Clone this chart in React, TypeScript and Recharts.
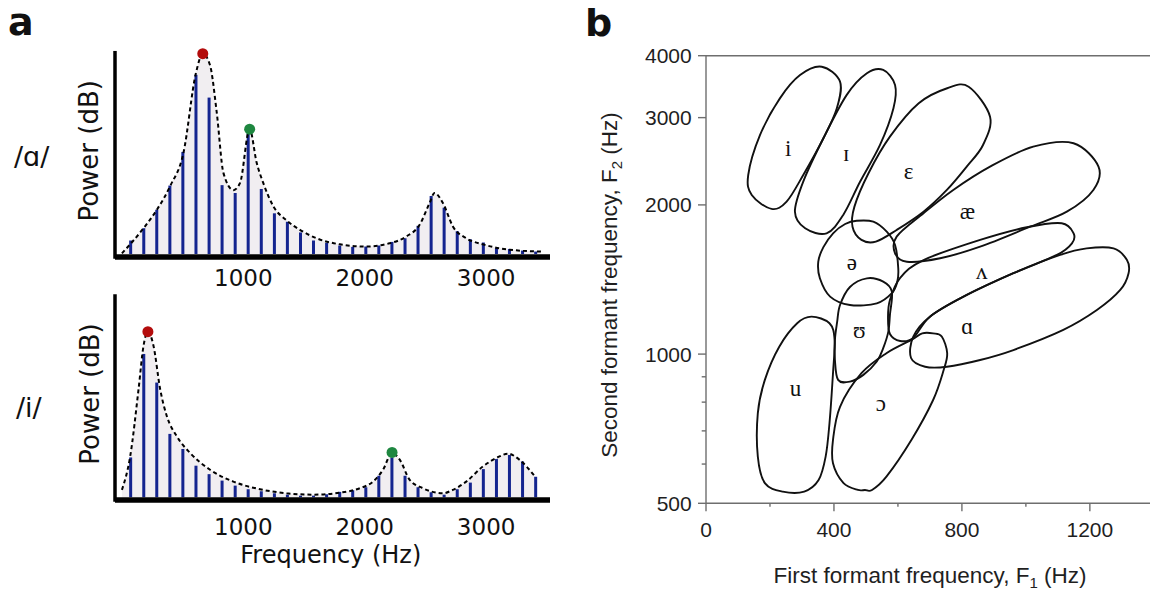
import {
  Area,
  Bar,
  ComposedChart,
  Label,
  Line,
  ReferenceLine,
  Scatter,
  XAxis,
  YAxis,
} from "recharts";

// ---------- panel a: harmonic spectra of /ɑ/ and /i/ ----------
const harmonicHz = [
  72, 180, 287, 395, 502, 610, 718, 825, 933, 1040, 1148, 1256, 1363, 1471, 1578, 1686,
  1794, 1901, 2009, 2116, 2224, 2332, 2439, 2547, 2654, 2762, 2870, 2977, 3085, 3192, 3300, 3408,
];
const powerA = [
  6.7, 12.8, 22, 34, 50.7, 89, 77.7, 34.2, 30.3, 60, 32.3, 20.2, 16, 10.7, 6.7, 5.5,
  4.2, 3.5, 3.7, 4.2, 6, 7.8, 14, 28.8, 23, 11.3, 7.3, 5.7, 3, 2.5, 1.7, 1.2,
];
const powerI = [
  19.8, 71.2, 57, 31.5, 24, 15.7, 11.5, 8.3, 5.8, 4, 3, 2, 1.3, 0.8, 0.8, 1.5,
  2.7, 3.5, 5, 10.7, 19.8, 10.7, 5, 2.5, 1.3, 4, 7.3, 14, 19, 21, 17.8, 10.2,
];
// dashed envelope, [Hz, level]
const envelopeA = [
  [0, 0.3], [178, 12.8], [288, 22], [397, 33.7], [507, 50.3], [610, 90], [666, 99.5],
  [726, 93.7], [781, 70.3], [836, 40.3], [918, 31.7], [973, 35.3], [1052, 62], [1110, 45.3],
  [1164, 35.3], [1247, 23.7], [1356, 16.7], [1466, 12], [1603, 7.8], [1795, 4.8], [2014, 3.7],
  [2205, 5.3], [2342, 8.7], [2452, 14.5], [2534, 25.3], [2575, 30.3], [2644, 25.3],
  [2726, 13.7], [2836, 7.8], [2973, 4.8], [3110, 2.8], [3247, 1.8], [3452, 1.2],
];
const envelopeI = [
  [0, 3.7], [68, 20.3], [137, 53.7], [178, 75.3], [214, 82.3], [260, 75.3], [315, 53.7],
  [370, 40.3], [452, 30.3], [562, 22], [726, 13.7], [918, 7.8], [1137, 4], [1356, 2],
  [1575, 1.3], [1795, 2.3], [1959, 4.5], [2068, 7.8], [2151, 13.7], [2225, 22], [2288, 18.7],
  [2370, 8.7], [2479, 4.5], [2644, 2], [2726, 3.7], [2836, 7.8], [2973, 15.3], [3110, 20.3],
  [3178, 21.7], [3274, 18.7], [3397, 10.7],
];
// formant peaks F1 (red), F2 (green)
const peaksA = [[666, 99.5], [1052, 62]];
const peaksI = [[214, 82.3], [2225, 22.3]];
const spectrumTicks = [1000, 2000, 3000];

// ---------- panel b: vowel regions in F1/F2 space, outlines as [F1, F2] ----------
const f1Ticks = [0, 200, 400, 600, 800, 1000, 1200];
const f1Major = [0, 400, 800, 1200];
const f2Ticks = [500, 600, 700, 800, 900, 1000, 2000, 3000, 4000];
const f2Major = [500, 1000, 2000, 3000, 4000];

const regionI = [[362, 3800], [419, 3545], [409, 3134], [367, 2726], [304, 2298], [252, 2031], [205, 1963], [143, 2094], [132, 2298], [169, 2768], [231, 3281], [294, 3656]];
const regionSmallI = [[554, 3743], [591, 3491], [586, 3134], [544, 2642], [482, 2229], [429, 1909], [377, 1753], [310, 1794], [278, 1938], [304, 2229], [367, 2726], [440, 3334], [503, 3686]];
const regionEpsilon = [[821, 3464], [888, 3013], [866, 2642], [815, 2389], [753, 2144], [680, 1938], [596, 1780], [531, 1686], [486, 1700], [458, 1807], [464, 1984], [508, 2317], [575, 2746], [665, 3207], [754, 3439]];
const regionAsh = [[1149, 2663], [1227, 2389], [1211, 2144], [1128, 1938], [1013, 1807], [857, 1647], [732, 1561], [628, 1536], [591, 1597], [596, 1726], [680, 1924], [773, 2144], [888, 2389], [1023, 2621]];
const regionWedge = [[680, 1548], [857, 1700], [1003, 1803], [1112, 1837], [1149, 1753], [1144, 1673], [1097, 1585], [961, 1456], [805, 1306], [700, 1190], [648, 1078], [607, 1063], [575, 1098], [569, 1183], [575, 1286], [607, 1425]];
const regionAlpha = [[648, 1085], [700, 1190], [805, 1306], [961, 1456], [1107, 1585], [1190, 1634], [1274, 1634], [1316, 1548], [1321, 1456], [1295, 1347], [1222, 1227], [1117, 1119], [961, 1019], [857, 973], [753, 943], [685, 943], [641, 982]];
const regionSchwa = [[471, 1858], [523, 1850], [565, 1766], [591, 1660], [601, 1490], [598, 1400], [581, 1327], [534, 1266], [450, 1256], [388, 1306], [356, 1422], [351, 1536], [367, 1644], [398, 1755], [435, 1830]];
const regionUpsilon = [[503, 1422], [554, 1400], [581, 1337], [575, 1200], [570, 1110], [554, 1028], [534, 966], [492, 908], [450, 880], [413, 887], [403, 973], [403, 1068], [410, 1161], [419, 1256], [450, 1366]];
const regionU = [[330, 1190], [386, 1154], [402, 1068], [397, 915], [386, 725], [374, 621], [352, 557], [307, 528], [240, 528], [184, 549], [162, 621], [162, 760], [184, 887], [229, 1035], [285, 1154]];
const regionOpenO = [[497, 532], [519, 532], [564, 566], [642, 671], [710, 808], [743, 929], [754, 1004], [737, 1085], [710, 1101], [676, 1101], [642, 1068], [564, 1004], [486, 915], [419, 783], [397, 671], [397, 602], [430, 549], [475, 532]];

const vowelLabels: [string, number, number][] = [
  ["i", 257, 2602], ["ɪ", 438, 2542], ["ɛ", 633, 2334], ["æ", 817, 1938], ["ʌ", 862, 1467],
  ["ɑ", 817, 1135], ["ə", 456, 1527], ["ʊ", 479, 1114], ["u", 280, 853], ["ɔ", 547, 796],
];

const SPEC_FONT = "'DejaVu Sans', Verdana, sans-serif";
const ARIAL = "'Liberation Sans', Arial, sans-serif";
const SERIF = "'Liberation Serif', 'DejaVu Serif', serif";
const F1_RED = "#b30c0c";
const F2_GREEN = "#1e8740";
const BAR_BLUE = "#14248f";
const AXIS_GRAY = "#6e6e6e";

// closed Catmull-Rom curve so each region outline is a smooth loop
const closedSpline = (context: any) => {
  let pts: number[][] = [];
  return {
    areaStart() {},
    areaEnd() {},
    lineStart() {
      pts = [];
    },
    point(x: number, y: number) {
      pts.push([+x, +y]);
    },
    lineEnd() {
      const n = pts.length;
      if (n < 3) return;
      context.moveTo(pts[0][0], pts[0][1]);
      for (let i = 0; i < n; i++) {
        const p0 = pts[(i - 1 + n) % n];
        const p1 = pts[i];
        const p2 = pts[(i + 1) % n];
        const p3 = pts[(i + 2) % n];
        context.bezierCurveTo(
          p1[0] + (p2[0] - p0[0]) / 6,
          p1[1] + (p2[1] - p0[1]) / 6,
          p2[0] - (p3[0] - p1[0]) / 6,
          p2[1] - (p3[1] - p1[1]) / 6,
          p2[0],
          p2[1],
        );
      }
      context.closePath();
    },
  };
};

const powerLabel = (p: any) => {
  const vb = p.viewBox || {};
  const x = vb.x + vb.width - 25.5;
  const y = vb.y + vb.height / 2 - 4;
  return (
    <text x={x} y={y} transform={`rotate(-90 ${x} ${y})`} textAnchor="middle" dominantBaseline="central" fontFamily={SPEC_FONT} fontSize={26} fill="#111">
      Power (dB)
    </text>
  );
};

const frequencyLabel = (p: any) => {
  const vb = p.viewBox || {};
  return (
    <text x={vb.x + vb.width / 2 - 1.7} y={vb.y + 62.7} textAnchor="middle" fontFamily={SPEC_FONT} fontSize={24} fill="#111">
      Frequency (Hz)
    </text>
  );
};

// harmonic bar, kept 3px wide around the harmonic's x position
const harmonicBar = (b: any) => {
  if (b.height == null || b.height <= 0) return <g />;
  return <rect x={b.x + (b.width || 0) / 2 - 1.5} y={b.y} width={3} height={b.height} fill={BAR_BLUE} />;
};

interface SpectrumProps {
  top: number;
  height: number;
  margin: { top: number; right: number; bottom: number; left: number };
  floor: number;
  power: number[];
  envelope: number[][];
  peaks: number[][];
  tickMargin: number;
  axisHeight: number;
  showTitle?: boolean;
}

function Spectrum(props: SpectrumProps) {
  const bars = harmonicHz.map((f, i) => ({ f, p: props.power[i] }));
  const env = props.envelope.map(([f, p]) => ({ f, p }));
  const dots = props.peaks.map(([f, p], i) => ({ f, p, color: i === 0 ? F1_RED : F2_GREEN }));
  return (
    <div style={{ position: "absolute", left: 0, top: props.top }}>
      <ComposedChart width={560} height={props.height} data={bars} margin={props.margin}>
        <XAxis
          dataKey="f"
          type="number"
          domain={[-57, 3526]}
          ticks={spectrumTicks}
          interval={0}
          tickLine={false}
          tickSize={0}
          tickMargin={props.tickMargin}
          height={props.axisHeight}
          axisLine={{ stroke: "#000", strokeWidth: 5.5 }}
          tick={{ fontSize: 23, fill: "#111", fontFamily: SPEC_FONT }}
        >
          {props.showTitle ? <Label content={frequencyLabel} /> : null}
        </XAxis>
        <YAxis
          type="number"
          domain={[props.floor, 100]}
          tick={false}
          tickLine={false}
          width={60}
          axisLine={{ stroke: "#000", strokeWidth: 3.5, strokeLinecap: "square" }}
        >
          <Label content={powerLabel} />
        </YAxis>
        <Area data={env} dataKey="p" type="monotone" stroke="none" fill="#f1eef1" fillOpacity={1} isAnimationActive={false} />
        <Bar dataKey="p" barSize={3} fill={BAR_BLUE} shape={harmonicBar} isAnimationActive={false} />
        <Line data={env} dataKey="p" type="monotone" stroke="#000" strokeWidth={2} strokeDasharray="4 3" dot={false} activeDot={false} isAnimationActive={false} />
        <Scatter
          data={dots}
          dataKey="p"
          isAnimationActive={false}
          shape={(s: any) => <circle cx={s.cx} cy={s.cy} r={5.5} fill={s.payload.color} />}
        />
      </ComposedChart>
    </div>
  );
}

const F1Tick = (p: any) => {
  const { x, y, payload } = p;
  const major = f1Major.includes(payload.value);
  return (
    <g>
      <line x1={x} y1={y} x2={x} y2={y + (major ? 8 : 3.5)} stroke={AXIS_GRAY} strokeWidth={1.4} />
      {major ? (
        <text x={x} y={y + 33.4} textAnchor="middle" fontFamily={ARIAL} fontSize={21} fill="#1f1f1f">
          {payload.value}
        </text>
      ) : null}
    </g>
  );
};

const F2Tick = (p: any) => {
  const { x, y, payload } = p;
  const major = f2Major.includes(payload.value);
  return (
    <g>
      <line x1={x - (major ? 8 : 4.3)} y1={y} x2={x} y2={y} stroke={AXIS_GRAY} strokeWidth={1.4} />
      {major ? (
        <text x={x - 14.3} y={y + 7.5} textAnchor="end" fontFamily={ARIAL} fontSize={21} fill="#1f1f1f">
          {payload.value}
        </text>
      ) : null}
    </g>
  );
};

const f2Title = (p: any) => {
  const vb = p.viewBox || {};
  const x = vb.x + 11;
  const y = vb.y + vb.height / 2 + 5.5;
  return (
    <text x={x} y={y} transform={`rotate(-90 ${x} ${y})`} textAnchor="middle" fontFamily={ARIAL} fontSize={22.5} fill="#1f1f1f">
      <tspan>Second formant frequency, F</tspan>
      <tspan dy={5} fontSize={15}>2</tspan>
      <tspan dy={-5}> (Hz)</tspan>
    </text>
  );
};

const f1Title = (p: any) => {
  const vb = p.viewBox || {};
  return (
    <text x={vb.x + vb.width / 2 + 2} y={vb.y + 79.4} textAnchor="middle" fontFamily={ARIAL} fontSize={22.5} fill="#1f1f1f">
      <tspan>First formant frequency, F</tspan>
      <tspan dy={5} fontSize={15}>1</tspan>
      <tspan dy={-5}> (Hz)</tspan>
    </text>
  );
};

function VowelChart() {
  const regions = [
    regionI, regionSmallI, regionEpsilon, regionAsh, regionWedge,
    regionAlpha, regionSchwa, regionUpsilon, regionU, regionOpenO,
  ].map((r) => r.map(([f1, f2]) => ({ f1, f2 })));
  const labels = vowelLabels.map(([v, f1, f2]) => ({ v, f1, f2 }));
  return (
    <div style={{ position: "absolute", left: 590, top: 0 }}>
      <ComposedChart width={560} height={591} margin={{ top: 55.7, right: 0, bottom: 47.7, left: 16 }}>
        <XAxis
          dataKey="f1"
          type="number"
          domain={[0, 1388]}
          allowDataOverflow
          ticks={f1Ticks}
          interval={0}
          tickLine={false}
          tickSize={0}
          tickMargin={0}
          height={40}
          axisLine={{ stroke: AXIS_GRAY, strokeWidth: 1.4 }}
          tick={(p: any) => <F1Tick {...p} />}
        >
          <Label content={f1Title} />
        </XAxis>
        <YAxis
          type="number"
          scale="log"
          domain={[500, 4000]}
          allowDataOverflow
          ticks={f2Ticks}
          interval={0}
          tickLine={false}
          tickSize={0}
          tickMargin={0}
          width={100}
          axisLine={{ stroke: AXIS_GRAY, strokeWidth: 1.4 }}
          tick={(p: any) => <F2Tick {...p} />}
        >
          <Label content={f2Title} />
        </YAxis>
        <ReferenceLine y={4000} stroke={AXIS_GRAY} strokeWidth={1.4} />
        {regions.map((r, i) => (
          <Line
            key={i}
            data={r}
            dataKey="f2"
            type={closedSpline as any}
            stroke="#111"
            strokeWidth={1.9}
            dot={false}
            activeDot={false}
            isAnimationActive={false}
          />
        ))}
        <Scatter
          data={labels}
          dataKey="f2"
          isAnimationActive={false}
          shape={(s: any) => (
            <text x={s.cx} y={s.cy} textAnchor="middle" dominantBaseline="central" fontFamily={SERIF} fontSize={23} fill="#111">
              {s.payload.v}
            </text>
          )}
        />
      </ComposedChart>
    </div>
  );
}

export default function App() {
  return (
    <div style={{ position: "absolute", left: 0, top: 0, width: 1150, height: 591, background: "#fff", overflow: "hidden" }}>
      <Spectrum
        top={0}
        height={300}
        margin={{ top: 52.7, right: 10, bottom: 13, left: 55 }}
        floor={-1.5}
        power={powerA}
        envelope={envelopeA}
        peaks={peaksA}
        tickMargin={13}
        axisHeight={30}
      />
      <Spectrum
        top={243}
        height={348}
        margin={{ top: 53, right: 10, bottom: 21, left: 55 }}
        floor={-1.34}
        power={powerI}
        envelope={envelopeI}
        peaks={peaksI}
        tickMargin={19}
        axisHeight={70}
        showTitle
      />
      <VowelChart />
      <svg width={1150} height={591} style={{ position: "absolute", left: 0, top: 0, pointerEvents: "none" }}>
        <text x={8} y={35} fontFamily={SPEC_FONT} fontWeight="bold" fontSize={38} fill="#111">a</text>
        <text x={585} y={36} fontFamily={SPEC_FONT} fontWeight="bold" fontSize={38} fill="#111">b</text>
        <text x={14} y={165.5} fontFamily={SPEC_FONT} fontSize={27} fill="#111">/ɑ/</text>
        <text x={16} y={417} fontFamily={SPEC_FONT} fontSize={27} fill="#111">/i/</text>
      </svg>
    </div>
  );
}
